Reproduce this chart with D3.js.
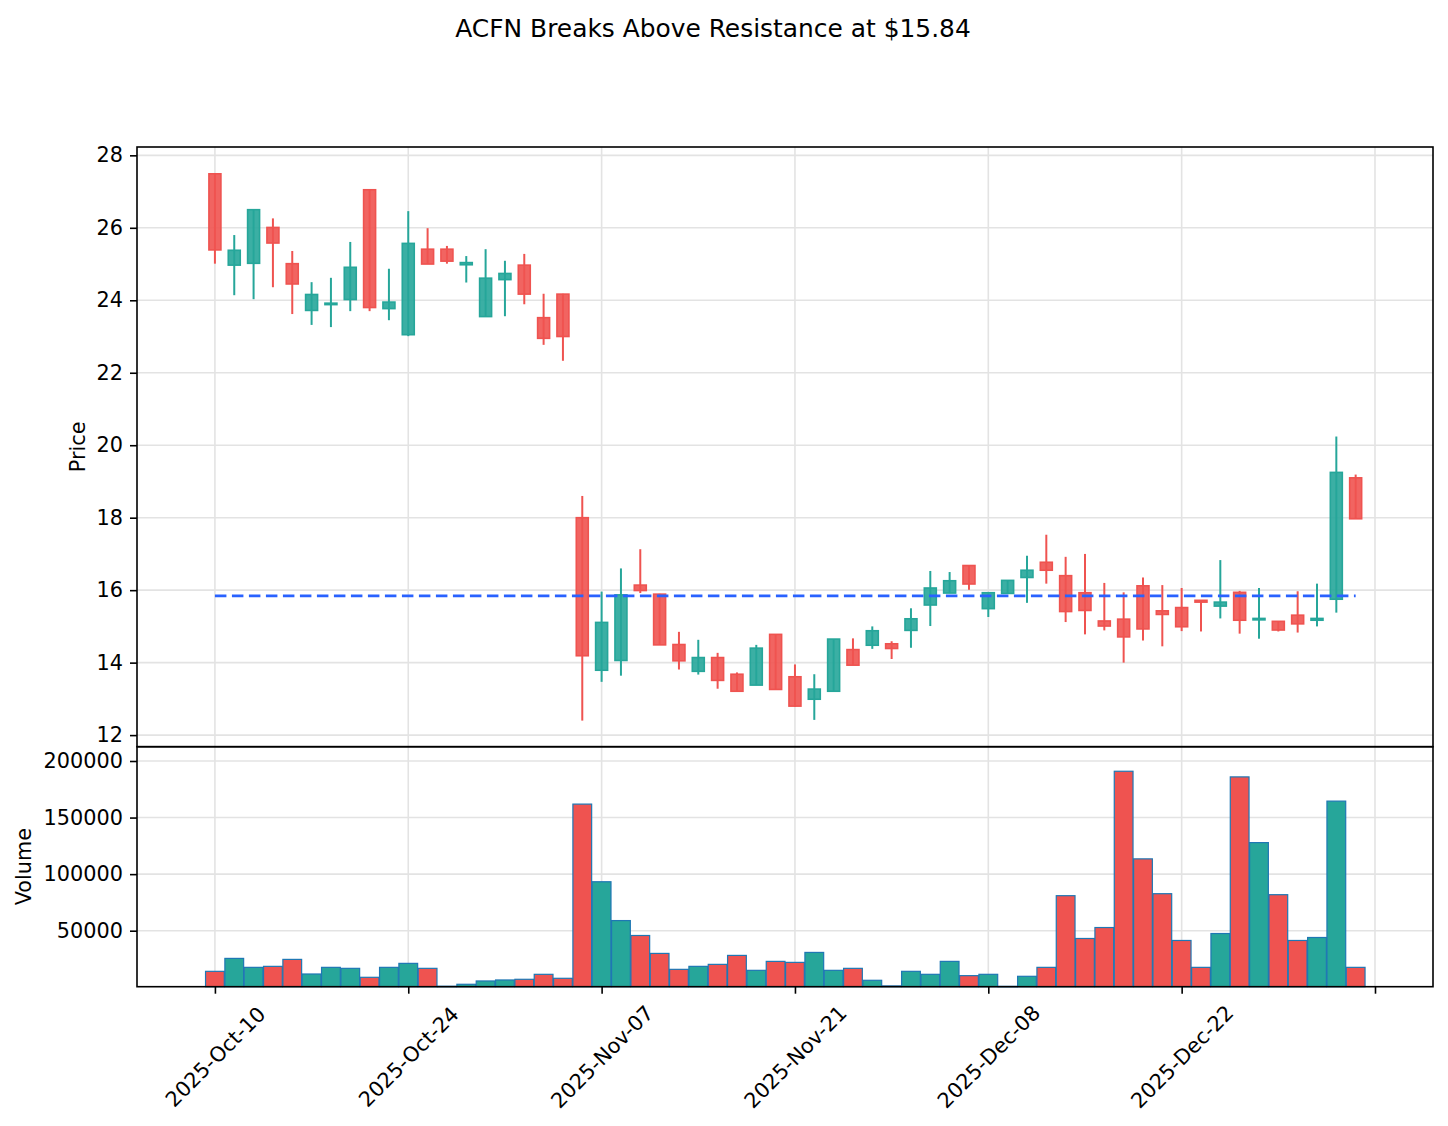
<!DOCTYPE html>
<html><head><meta charset="utf-8">
<script src="https://cdn.jsdelivr.net/npm/d3@7"></script>
<style>
body{margin:0;background:#fff}
svg{display:block}
text{font-family:"DejaVu Sans",sans-serif}
</style>
</head><body>
<svg id="c" width="1448" height="1126"></svg>
<script>
const title = "ACFN Breaks Above Resistance at $15.84";
const tickLabels = ["2025-Oct-10","2025-Oct-24","2025-Nov-07","2025-Nov-21","2025-Dec-08","2025-Dec-22",""];
const tickIndex = [0,10,20,30,40,50,60];
const priceTicks = [12,14,16,18,20,22,24,26,28];
const volumeTicks = [50000,100000,150000,200000];
const resistance = 15.84;

const opens  = [27.49,24.97,25.02,26.01,25.01,23.72,23.88,24.02,27.05,23.77,
                23.05,25.41,25.41,24.98,23.55,24.57,24.97,23.52,24.17,18.00,
                13.79,14.06,16.14,15.89,14.50,13.76,14.14,13.68,13.38,14.78,
                13.61,12.99,13.21,14.36,14.48,14.52,14.89,15.59,15.92,16.68,
                15.49,15.91,16.35,16.77,16.40,15.93,15.15,15.20,16.12,15.43,
                15.52,15.72,15.56,15.94,15.18,15.14,15.31,15.17,15.75,19.10];
const highs  = [27.50,25.80,26.50,26.26,25.36,24.50,24.62,25.61,27.06,24.87,
                26.46,25.99,25.50,25.22,25.41,25.09,25.28,24.18,24.18,18.60,
                15.96,16.60,17.13,15.90,14.85,14.63,14.27,13.73,14.49,14.78,
                13.95,13.68,14.65,14.67,15.00,14.59,15.50,16.53,16.50,16.68,
                15.93,16.27,16.95,17.53,16.92,17.00,16.20,15.94,16.35,16.14,
                16.06,15.72,16.83,15.98,16.06,15.14,15.97,16.18,20.24,19.19];
const lows   = [25.01,24.14,24.03,24.36,23.62,23.32,23.26,23.70,23.70,23.45,
                23.01,25.00,25.01,24.49,23.55,23.56,23.89,22.77,22.33,12.40,
                13.47,13.64,15.92,14.49,13.81,13.67,13.28,13.21,13.38,13.26,
                12.78,12.42,13.21,13.93,14.38,14.10,14.41,15.01,15.92,16.01,
                15.26,15.91,15.65,16.18,15.12,14.78,14.89,14.00,14.61,14.45,
                14.87,14.86,15.22,14.80,14.66,14.86,14.83,15.00,15.38,17.97];
const closes = [25.39,25.38,26.50,25.58,24.45,24.16,23.92,24.91,23.80,23.95,
                25.57,25.00,25.08,25.04,24.61,24.74,24.17,22.95,23.00,14.19,
                15.11,15.87,15.99,14.49,14.05,14.14,13.51,13.21,14.40,13.26,
                12.80,13.27,14.65,13.93,14.88,14.39,15.21,16.06,16.26,16.17,
                15.93,16.27,16.55,16.55,15.41,15.44,15.01,14.71,14.93,15.33,
                14.99,15.67,15.67,15.17,15.22,14.90,15.07,15.22,19.25,17.97];
const volumes = [14080,25520,17600,18480,24640,11730,17600,16720,8800,17600,
                 21120,16720,900,2640,5570,6450,7040,11440,7920,161900,
                 93270,58950,45760,29920,15840,18480,20240,28160,14960,22880,
                 22000,30800,14960,16720,6160,1200,14080,11440,22880,10270,
                 11440,800,9680,17600,80950,43120,52800,190940,113500,82710,
                 41360,17600,47510,185950,127870,81830,41360,44000,164540,17600];

const UP = "#26a69a", DOWN = "#ef5350";
const L = 137, R = 1433, PT = 147, PB = 746.7, VB = 986.7;
const svg = d3.select("#c");

const x = d3.scaleLinear().domain([-4.03, 63.0]).range([L, R]);
const yP = d3.scaleLinear().domain([11.68, 28.23]).range([PB, PT]);
const yV = d3.scaleLinear().domain([500, 212640]).range([VB, PB]);
const bw = x(1) - x(0);

const data = opens.map((o,i)=>({i, o, h:highs[i], l:lows[i], c:closes[i], v:volumes[i]}));

// grid
const grid = svg.append("g").attr("stroke","#e3e3e3").attr("stroke-width",1.6);
tickIndex.forEach(t=>{
  grid.append("line").attr("x1",x(t)).attr("x2",x(t)).attr("y1",PT).attr("y2",VB);
});
priceTicks.forEach(t=>{
  grid.append("line").attr("x1",L).attr("x2",R).attr("y1",yP(t)).attr("y2",yP(t));
});
volumeTicks.forEach(t=>{
  grid.append("line").attr("x1",L).attr("x2",R).attr("y1",yV(t)).attr("y2",yV(t));
});

// candles
const cg = svg.append("g");
data.forEach(d=>{
  const col = d.c >= d.o ? UP : DOWN;
  cg.append("line").attr("x1",x(d.i)).attr("x2",x(d.i))
    .attr("y1",yP(d.h)).attr("y2",yP(d.l)).attr("stroke",col).attr("stroke-width",2);
  const top = yP(Math.max(d.o,d.c)), bot = yP(Math.min(d.o,d.c));
  const w = bw*0.62;
  cg.append("rect").attr("x",x(d.i)-w/2).attr("width",w)
    .attr("y",top).attr("height",Math.max(bot-top,1))
    .attr("fill",col).attr("fill-opacity",0.9)
    .attr("stroke",col).attr("stroke-width",1.6);
});

// resistance line
svg.append("line").attr("x1",x(0)).attr("x2",x(data.length-1))
  .attr("y1",yP(resistance)).attr("y2",yP(resistance))
  .attr("stroke","#2962ff").attr("stroke-width",2.8).attr("stroke-dasharray","11.5,5.5");

// volume bars
const vg = svg.append("g");
data.forEach(d=>{
  const col = d.c >= d.o ? UP : DOWN;
  const w = bw*0.97;
  vg.append("rect").attr("x",x(d.i)-w/2).attr("width",w)
    .attr("y",yV(d.v)).attr("height",Math.max(VB-yV(d.v),0.5))
    .attr("fill",col).attr("stroke","#1f77b4").attr("stroke-width",1.2);
});

// spines
svg.append("rect").attr("x",L).attr("y",PT).attr("width",R-L).attr("height",PB-PT)
  .attr("fill","none").attr("stroke","#000").attr("stroke-width",1.6);
svg.append("rect").attr("x",L).attr("y",PB).attr("width",R-L).attr("height",VB-PB)
  .attr("fill","none").attr("stroke","#000").attr("stroke-width",1.6);

// axes
function styleAxis(g){
  g.select(".domain").remove();
  g.selectAll(".tick line").attr("stroke","#000").attr("stroke-width",1.6);
  g.selectAll("text").attr("fill","#000").style("font-size","20.8px").style("font-family","DejaVu Sans, sans-serif");
}
svg.append("g").attr("transform",`translate(${L},0)`)
  .call(d3.axisLeft(yP).tickValues(priceTicks).tickFormat(d3.format("d")).tickSize(7).tickPadding(7))
  .call(styleAxis);
svg.append("g").attr("transform",`translate(${L},0)`)
  .call(d3.axisLeft(yV).tickValues(volumeTicks).tickFormat(d3.format("d")).tickSize(7).tickPadding(7))
  .call(styleAxis);
const xa = svg.append("g").attr("transform",`translate(0,${VB})`)
  .call(d3.axisBottom(x).tickValues(tickIndex).tickFormat((d,i)=>tickLabels[i]).tickSize(7))
  .call(styleAxis);
xa.selectAll("text").attr("y",0).attr("dy","0.35em").attr("text-anchor","middle")
  .attr("transform","translate(0,70) rotate(-45)");

// labels
svg.append("text").attr("x",713).attr("y",36.5).attr("text-anchor","middle")
  .style("font-size","24.9px").attr("fill","#000").text(title);
svg.append("text").attr("transform",`translate(78,${(PT+PB)/2}) rotate(-90)`)
  .attr("text-anchor","middle").attr("dy","0.35em").style("font-size","20.8px").attr("fill","#000").text("Price");
svg.append("text").attr("transform",`translate(23.5,${(PB+VB)/2}) rotate(-90)`)
  .attr("text-anchor","middle").attr("dy","0.35em").style("font-size","20.8px").attr("fill","#000").text("Volume");
</script>
</body></html>
